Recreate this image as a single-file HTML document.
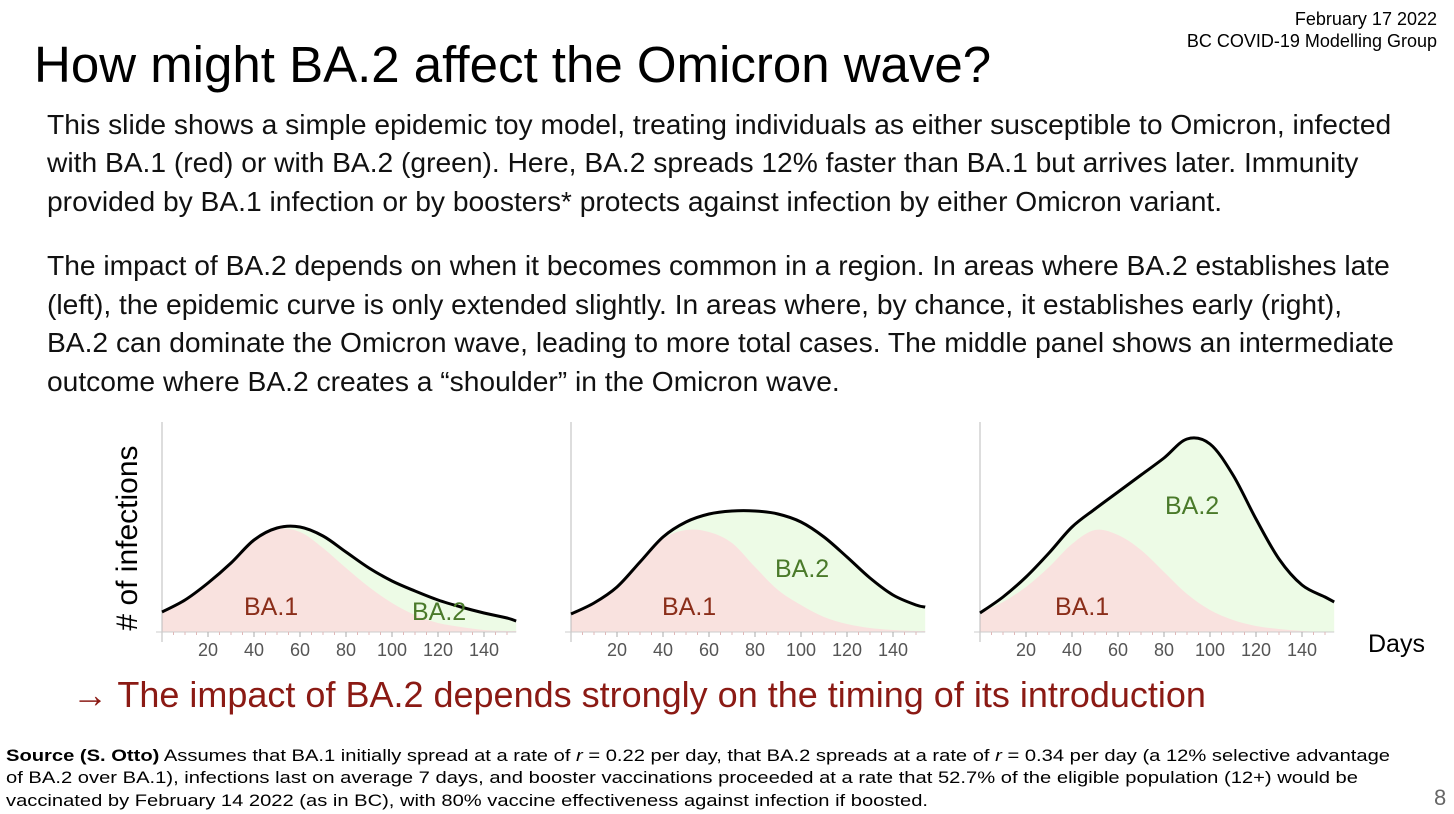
<!DOCTYPE html>
<html><head><meta charset="utf-8"><style>
body{margin:0;width:1454px;height:814px;overflow:hidden;background:#fff;font-family:"Liberation Sans",sans-serif;position:relative}
.a{position:absolute;white-space:nowrap}
.body{font-size:28.2px;color:#111;left:47px}
</style></head><body>
<div class="a" style="right:17px;top:8px;font-size:18px;text-align:right;line-height:22px">February 17 2022<br>BC COVID-19 Modelling Group</div>
<div class="a" style="left:34px;top:35px;font-size:51px;color:#000">How might BA.2 affect the Omicron wave?</div>
<div class="a body" style="top:105px;line-height:38.3px">This slide shows a simple epidemic toy model, treating individuals as either susceptible to Omicron, infected<br>with BA.1 (red) or with BA.2 (green). Here, BA.2 spreads 12% faster than BA.1 but arrives later. Immunity<br>provided by BA.1 infection or by boosters* protects against infection by either Omicron variant.</div>
<div class="a body" style="top:246px;line-height:38.5px">The impact of BA.2 depends on when it becomes common in a region. In areas where BA.2 establishes late<br>(left), the epidemic curve is only extended slightly. In areas where, by chance, it establishes early (right),<br>BA.2 can dominate the Omicron wave, leading to more total cases. The middle panel shows an intermediate<br>outcome where BA.2 creates a “shoulder” in the Omicron wave.</div>
<div class="a" style="left:72px;top:674px;font-size:36px;color:#8b1a14">→ The impact of BA.2 depends strongly on the timing of its introduction</div>
<div class="a" style="left:1434px;top:785px;font-size:22px;color:#666">8</div>
<svg class="a" style="left:0;top:740px" width="1420" height="74" font-size="17" font-family="Liberation Sans, sans-serif" fill="#000">
<text x="6" y="21" textLength="1384" lengthAdjust="spacingAndGlyphs"><tspan font-weight="bold">Source (S. Otto)</tspan> Assumes that BA.1 initially spread at a rate of <tspan font-style="italic">r</tspan> = 0.22 per day, that BA.2 spreads at a rate of <tspan font-style="italic">r</tspan> = 0.34 per day (a 12% selective advantage</text>
<text x="6" y="43" textLength="1352" lengthAdjust="spacingAndGlyphs">of BA.2 over BA.1), infections last on average 7 days, and booster vaccinations proceeded at a rate that 52.7% of the eligible population (12+) would be</text>
<text x="6" y="66" textLength="922" lengthAdjust="spacingAndGlyphs">vaccinated by February 14 2022 (as in BC), with 80% vaccine effectiveness against infection if boosted.</text>
</svg>
<svg id="chart" class="a" style="left:0;top:0" width="1454" height="814"></svg>
<script>
const days=[0,10,20,30,40,50,60,70,80,90,100,110,120,130,140,150,154];
const late_total=[20,32,49,69,92,104,105,96,80,64,51,41,32,25,19,14,11];
const late_ba1=[20,32,49,69,92,103,100,84,64,45,29,17,9,5,2,1,1];
const mid_total=[18,29,45,70,95,110,118,121,121,118,110,95,75,54,37,27,25];
const mid_ba1=[18,29,45,69,93,102,100,89,65,42,27,15,8,4,2,1,1];
const early_total=[19,35,55,79,105,123,140,157,174,193,188,157,113,73,47,35,30];
const early_ba1=[19,30,45,65,88,102,97,82,60,38,22,12,6,3,1,0,0];
const tickLabels=[20,40,60,80,100,120,140];
const panels=[{x0:162,total:late_total,ba1:late_ba1,n:'late',b1:[244,606],b2:[412,611]},
 {x0:571,total:mid_total,ba1:mid_ba1,n:'intermediate',b1:[662,606],b2:[775,568]},
 {x0:980,total:early_total,ba1:early_ba1,n:'early',b1:[1055,606],b2:[1165,505]}];
const NS='http://www.w3.org/2000/svg',svg=document.getElementById('chart');
const base=632,kx=2.3,ky=1;
function mk(t,a,p){const e=document.createElementNS(NS,t);for(const k in a)e.setAttribute(k,a[k]);(p||svg).appendChild(e);return e;}
function pts(x0,v){return days.map((d,i)=>[x0+d*kx,base-v[i]*ky]);}
function curve(p){let s='M'+p[0][0]+','+p[0][1];for(let i=0;i<p.length-1;i++){const a=p[Math.max(i-1,0)],b=p[i],c=p[i+1],d=p[Math.min(i+2,p.length-1)];s+=' C'+(b[0]+(c[0]-a[0])/6)+','+(b[1]+(c[1]-a[1])/6)+' '+(c[0]-(d[0]-b[0])/6)+','+(c[1]-(d[1]-b[1])/6)+' '+c[0]+','+c[1];}return s;}
panels.forEach((P,pi)=>{
 const g=mk('g',{});
 
 
 const tp=pts(P.x0,P.total),bp=pts(P.x0,P.ba1),xe=P.x0+days[days.length-1]*kx;
 const ga=mk('path',{d:curve(tp)+' L'+xe+','+base+' L'+P.x0+','+base+' Z',fill:'#edfbe6'},g);
 
 
 const ra=mk('path',{d:curve(bp)+' L'+xe+','+base+' L'+P.x0+','+base+' Z',fill:'#f9e2df'},g);
 
 
 const yl=mk('line',{x1:P.x0,y1:422,x2:P.x0,y2:642,stroke:'#bbb','stroke-width':1},g);
 
 
 const xl=mk('line',{x1:P.x0-6,y1:base,x2:xe,y2:base,stroke:'#ccc','stroke-width':1},g);
 
 
 for(let d=5;d<=150;d+=5){const t=mk('line',{x1:P.x0+d*kx,y1:base,x2:P.x0+d*kx,y2:base+(d%20==0?5:3),stroke:d%20==0?'#aaa':'#e0b8b8','stroke-width':1},g);
  
  }
 tickLabels.forEach(v=>{const t=mk('text',{x:P.x0+v*kx,y:656,'text-anchor':'middle','font-size':18,fill:'#555','font-family':'Liberation Sans, sans-serif'},g);t.textContent=v;
  
  });
 const ln=mk('path',{d:curve(tp),fill:'none',stroke:'#000','stroke-width':3},g);
 
 
 const l1=mk('text',{x:P.b1[0],y:P.b1[1]+9,'font-size':25,fill:'#8b2e1a','font-family':'Liberation Sans, sans-serif'},g);l1.textContent='BA.1';
 
 
 const l2=mk('text',{x:P.b2[0],y:P.b2[1]+9,'font-size':25,fill:'#4a7a2a','font-family':'Liberation Sans, sans-serif'},g);l2.textContent='BA.2';
 
 
});
const yt=mk('text',{x:0,y:0,transform:'translate(137,538) rotate(-90)','text-anchor':'middle','font-size':30,fill:'#000','font-family':'Liberation Sans, sans-serif'});yt.textContent='# of infections';


const xt=mk('text',{x:1368,y:652,'font-size':25,fill:'#000','font-family':'Liberation Sans, sans-serif'});xt.textContent='Days';


</script>
</body></html>
